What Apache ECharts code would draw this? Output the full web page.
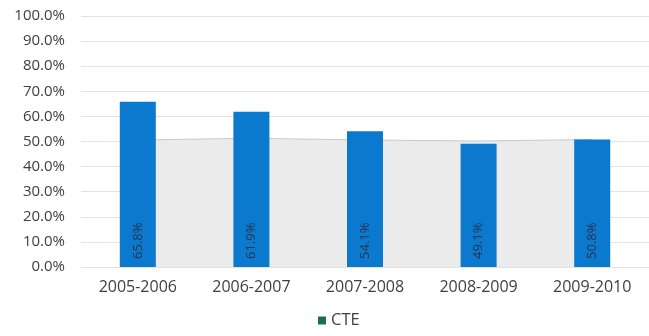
<!DOCTYPE html>
<html><head><meta charset="utf-8">
<script src="https://cdn.jsdelivr.net/npm/echarts@6/dist/echarts.min.js"></script>
<style>html,body{margin:0;padding:0;background:#fff}#c{width:649px;height:336px}</style>
</head><body><div id="c"></div>
<script>
const categories = ['2005-2006','2006-2007','2007-2008','2008-2009','2009-2010'];
const cteValues = [65.8, 61.9, 54.1, 49.1, 50.8];
const backgroundValues = [50.6, 51.3, 50.6, 50.2, 50.8];
const yTicks = [0,10,20,30,40,50,60,70,80,90,100];

const chart = echarts.init(document.getElementById('c'), null, {renderer:'canvas'});
chart.setOption({
  animation:false,
  textStyle:{fontFamily:'"Open Sans", "Noto Sans", sans-serif'},
  grid:{left:81,right:0,top:16,bottom:69},
  legend:{
    bottom:2,left:313,itemWidth:8,itemHeight:8,itemGap:4,
    icon:'rect',
    textStyle:{color:'#404040',fontSize:16.5,fontFamily:'"Open Sans", sans-serif'},
    data:[{name:'CTE',itemStyle:{color:'#1e6b56'}}]
  },
  xAxis:{
    type:'category',data:categories,
    axisLine:{show:false},axisTick:{show:false},
    axisLabel:{color:'#404040',fontSize:16,margin:12}
  },
  yAxis:{
    type:'value',min:yTicks[0],max:yTicks[yTicks.length-1],interval:10,
    axisLabel:{color:'#404040',fontSize:15,margin:16,formatter:v=>v.toFixed(1)+'%'},
    splitLine:{lineStyle:{color:'#e3e3e3',width:1}},
    axisLine:{show:false},axisTick:{show:false}
  },
  series:[
    {
      name:'bg',type:'line',data:backgroundValues,symbol:'none',silent:true,
      lineStyle:{color:'#c9c9c9',width:1},
      areaStyle:{color:'#ebebeb',opacity:1},z:1
    },
    {
      name:'CTE',type:'bar',data:cteValues,barWidth:36,z:2,
      itemStyle:{color:'#0b79cd'},
      label:{show:true,position:'insideBottom',rotate:90,align:'left',verticalAlign:'middle',
        distance:8,color:'#26344d',fontSize:13,formatter:p=>p.value.toFixed(1)+'%'}
    }
  ]
});
</script></body></html>
